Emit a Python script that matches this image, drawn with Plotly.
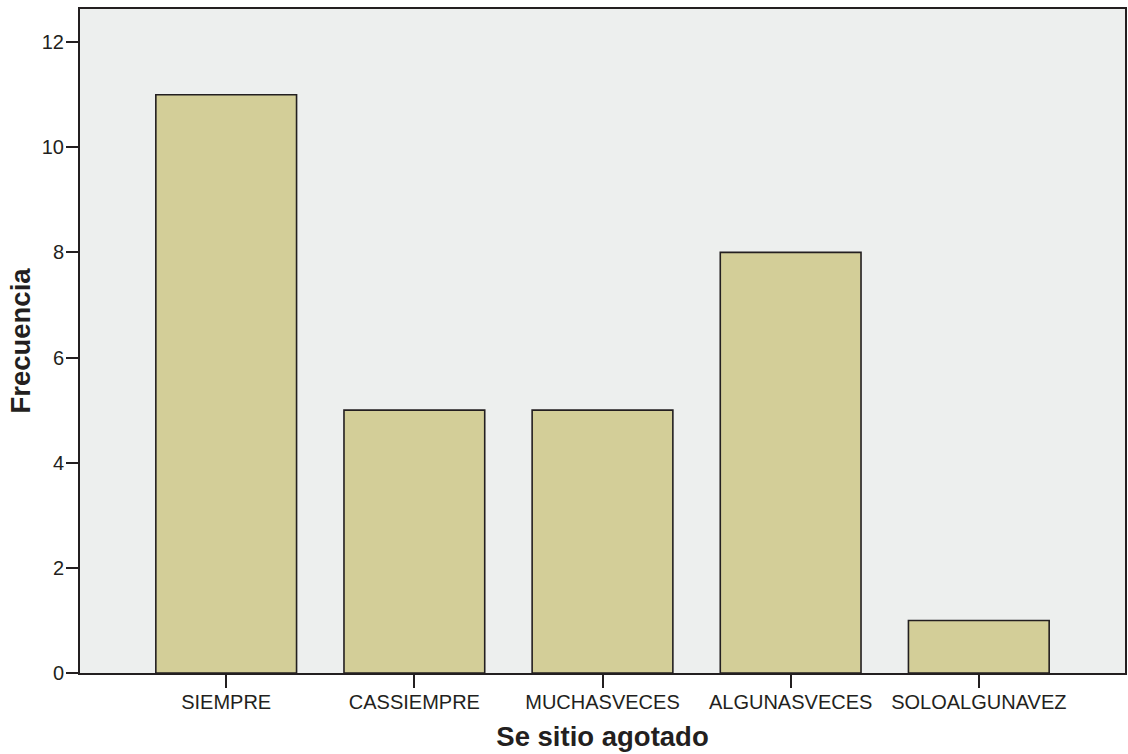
import plotly.graph_objects as go

# Frequency of each answer category
categories = ["SIEMPRE", "CASSIEMPRE", "MUCHASVECES", "ALGUNASVECES", "SOLOALGUNAVEZ"]
frequencies = [11, 5, 5, 8, 1]
y_ticks = [0, 2, 4, 6, 8, 10, 12]

FONT = "Liberation Sans, Arial, sans-serif"
INK = "#231f20"

fig = go.Figure(
    go.Bar(
        x=categories,
        y=frequencies,
        marker=dict(color="#d3ce98", line=dict(color=INK, width=1.6)),
        hoverinfo="x+y",
    )
)

fig.update_layout(
    width=1128,
    height=754,
    margin=dict(l=80, r=1, t=9, b=81),
    paper_bgcolor="white",
    plot_bgcolor="#edefee",
    bargap=0.252,
    showlegend=False,
    font=dict(family=FONT, color=INK),
)

fig.update_xaxes(
    type="category",
    range=[-0.777, 4.777],
    showline=True,
    linecolor=INK,
    linewidth=2,
    mirror=True,
    ticks="outside",
    ticklen=13,
    tickwidth=2,
    tickcolor=INK,
    tickfont=dict(size=20, family=FONT, color=INK),
    ticklabelstandoff=-3,
    showgrid=False,
    zeroline=False,
    title=dict(
        text="<b>Se sitio agotado</b>",
        font=dict(size=27.5, family=FONT, color=INK),
        standoff=15,
    ),
)

fig.update_yaxes(
    range=[0, 12.63],
    tickvals=y_ticks,
    showline=True,
    linecolor=INK,
    linewidth=2,
    mirror=True,
    ticks="outside",
    ticklen=12,
    tickwidth=2,
    tickcolor=INK,
    tickfont=dict(size=20, family=FONT, color=INK),
    ticklabelstandoff=-2,
    showgrid=False,
    zeroline=False,
    title=dict(
        text="<b>Frecuencia</b>",
        font=dict(size=27.5, family=FONT, color=INK),
        standoff=3,
    ),
)

fig.write_html("out.html")
